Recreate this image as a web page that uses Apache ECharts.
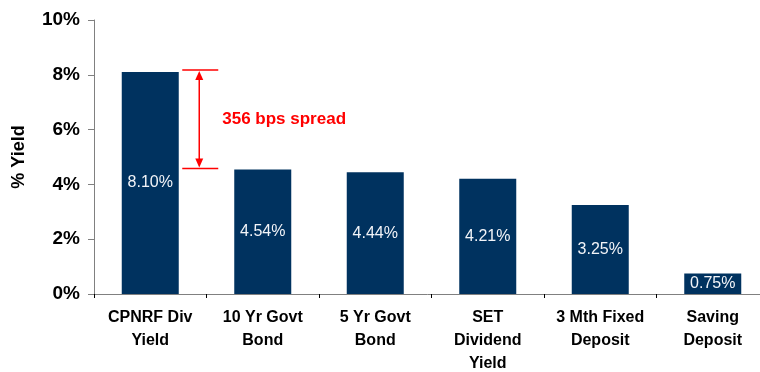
<!DOCTYPE html>
<html>
<head>
<meta charset="utf-8">
<script src="https://cdn.jsdelivr.net/npm/echarts@6/dist/echarts.min.js"></script>
<style>
html, body { margin: 0; padding: 0; background: #fff; }
#chart { width: 760px; height: 372px; }
</style>
</head>
<body>
<div id="chart"></div>
<script>
const categories = ['CPNRF Div\nYield', '10 Yr Govt\nBond', '5 Yr Govt\nBond', 'SET\nDividend\nYield', '3 Mth Fixed\nDeposit', 'Saving\nDeposit'];
const yields = [8.10, 4.54, 4.44, 4.21, 3.25, 0.75];
// spread annotation: from CPNRF yield down to 10 yr bond
const spread = [[0, 8.10, 4.54]];
const spreadText = '356 bps spread';

const navy = '#00325f';
const red = '#ff0000';
const axisGrey = '#808080';

const chart = echarts.init(document.getElementById('chart'));

chart.setOption({
    animation: false,
    textStyle: { fontFamily: 'Arial, "Liberation Sans", sans-serif' },
    grid: { left: 94, top: 20, bottom: 78, width: 675, outerBoundsMode: 'none', containLabel: false },
    xAxis: {
        type: 'category',
        data: categories,
        axisLine: { lineStyle: { color: axisGrey, width: 1 } },
        axisTick: { show: true, length: 4, lineStyle: { color: '#000' } },
        axisLabel: {
            interval: 0,
            color: '#000',
            fontWeight: 'bold',
            fontSize: 16,
            lineHeight: 23,
            margin: 12
        }
    },
    yAxis: {
        type: 'value',
        min: 0,
        max: 10,
        interval: 2,
        name: '% Yield',
        nameLocation: 'middle',
        nameGap: 66,
        nameRotate: 90,
        nameTextStyle: { color: '#000', fontWeight: 'bold', fontSize: 18 },
        axisLine: { show: true, lineStyle: { color: axisGrey, width: 1 } },
        axisTick: { show: true, length: 6, lineStyle: { color: axisGrey } },
        splitLine: { show: false },
        axisLabel: {
            color: '#000',
            fontWeight: 'bold',
            fontSize: 19,
            margin: 14,
            formatter: '{value}%'
        }
    },
    series: [
        {
            type: 'bar',
            data: yields,
            barWidth: 57,
            itemStyle: { color: navy },
            label: {
                show: true,
                position: 'inside',
                color: '#f2f4f8',
                fontSize: 16,
                formatter: p => p.value.toFixed(2) + '%'
            }
        },
        {
            type: 'custom',
            data: spread,
            encode: { x: 0, y: [1, 2] },
            clip: false,
            z: 5,
            renderItem: function (params, api) {
                const top = api.coord([api.value(0), api.value(1)]);
                const bottom = api.coord([api.value(0), api.value(2)]);
                const x0 = top[0] + 32;
                const x1 = top[0] + 68;
                const cx = top[0] + 49;
                const y0 = top[1] - 2;
                const y1 = bottom[1] - 1;
                const st = { stroke: red, lineWidth: 1.5 };
                return {
                    type: 'group',
                    children: [
                        { type: 'line', shape: { x1: x0, y1: y0, x2: x1, y2: y0 }, style: st },
                        { type: 'line', shape: { x1: x0, y1: y1, x2: x1, y2: y1 }, style: st },
                        { type: 'line', shape: { x1: cx, y1: y0 + 6, x2: cx, y2: y1 - 6 }, style: st },
                        { type: 'polygon', shape: { points: [[cx, y0 + 1], [cx - 4, y0 + 10], [cx + 4, y0 + 10]] }, style: { fill: red } },
                        { type: 'polygon', shape: { points: [[cx, y1 - 1], [cx - 4, y1 - 10], [cx + 4, y1 - 10]] }, style: { fill: red } },
                        {
                            type: 'text',
                            style: {
                                text: spreadText,
                                x: cx + 23,
                                y: (y0 + y1) / 2,
                                verticalAlign: 'middle',
                                fill: red,
                                font: 'bold 17px Arial, "Liberation Sans", sans-serif'
                            }
                        }
                    ]
                };
            }
        }
    ]
});
</script>
</body>
</html>
